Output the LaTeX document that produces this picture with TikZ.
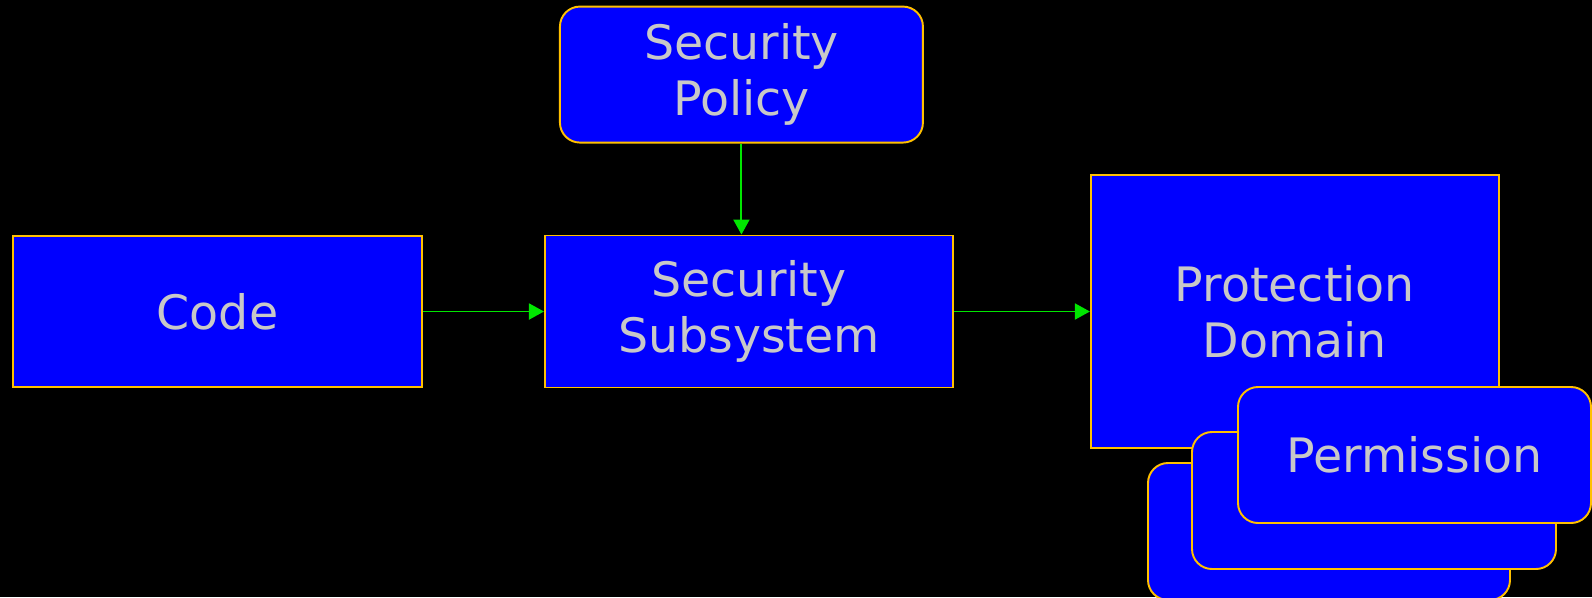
\documentclass[tikz,border=0pt]{standalone}
\usepackage{fontspec}
\setmainfont{DejaVu Sans}
\usetikzlibrary{positioning,arrows.meta}
\definecolor{boxfill}{RGB}{0,0,255}
\definecolor{boxline}{RGB}{255,192,0}
\definecolor{boxtext}{RGB}{200,200,200}
\definecolor{flow}{RGB}{0,230,0}

\begin{document}
\begin{tikzpicture}[
    every node/.style={font=\fontsize{27}{32}\selectfont},
    block/.style={
        draw=boxline,
        line width=1.1pt,
        fill=boxfill,
        text=boxtext,
        align=center,
        inner sep=0pt
    },
    roundblock/.style={block, rounded corners=0.4cm},
    link/.style={-{Triangle[length=0.3cm,width=0.32cm]}, flow, line width=1.1pt}
]
\fill[black] (0,0) rectangle (31.84,-11.94);
\useasboundingbox (0,0) rectangle (31.84,-11.94);

\node[block, minimum width=8.18cm, minimum height=3.02cm] (code) at (4.35,-6.23) {Code};
\node[block, minimum width=8.16cm, minimum height=3.04cm, right=2.42cm of code] (subsys)
{Security\\Subsystem};
\node[block, minimum width=8.16cm, minimum height=5.46cm, right=2.72cm of subsys] (domain)
{Protection\\Domain};
\node[roundblock, minimum width=7.26cm, minimum height=2.72cm, above=1.82cm of subsys, xshift=-0.15cm] (policy)
{Security\\Policy};

% stack of permissions
\node[roundblock, minimum width=7.24cm, minimum height=2.74cm] (perm3) at (26.58,-10.63) {};
\node[roundblock, minimum width=7.28cm, minimum height=2.74cm] (perm2) at (27.48,-10.01) {};
\node[roundblock, minimum width=7.06cm, minimum height=2.72cm] (perm1) at (28.29,-9.10) {Permission};

\draw[link] (code) -- (subsys);
\draw[link] (subsys) -- (domain);
\draw[link] (policy.south) -- (policy.south |- subsys.north);
\end{tikzpicture}
\end{document}
